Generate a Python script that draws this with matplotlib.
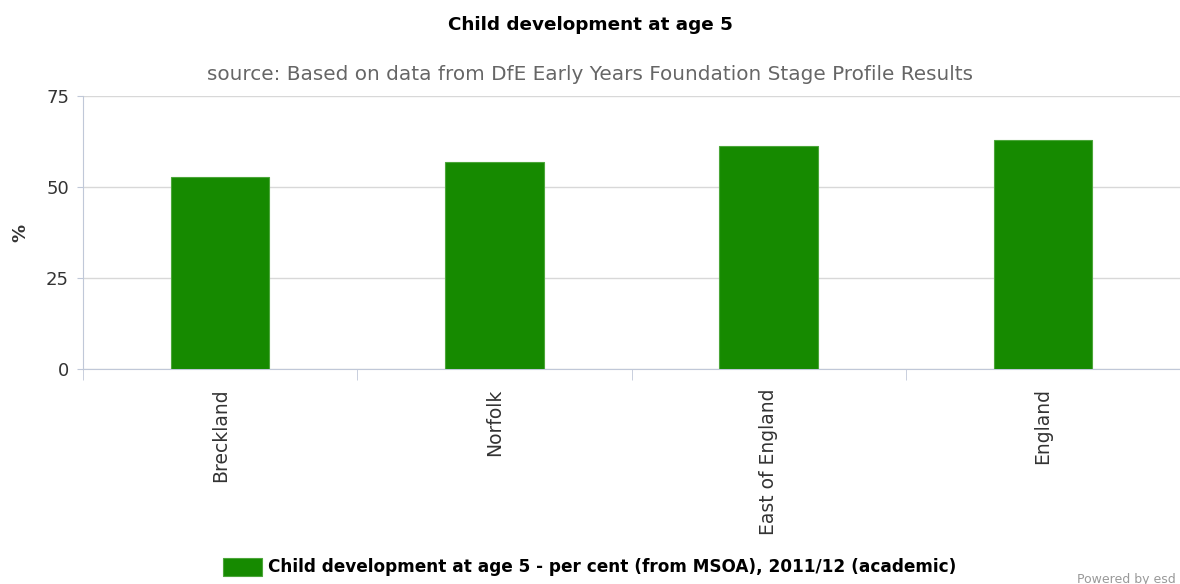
import matplotlib.pyplot as plt
import numpy as np

areas = ['Breckland', 'Norfolk', 'East of England', 'England']
values = [52.7, 56.9, 61.3, 62.9]
series_name = 'Child development at age 5 - per cent (from MSOA), 2011/12 (academic)'

def main():
	plt.rcParams['font.family'] = ['DejaVu Sans']
	fig = plt.figure(figsize=(11.8, 5.84), dpi=100)
	ax = fig.add_axes([83 / 1180, 1 - 369 / 584, 1 - 83 / 1180, (369 - 96) / 584])

	x = np.arange(len(areas))
	ax.bar(x, values, width=0.36, color='#168a00', edgecolor='#4ca63a', linewidth=0.8,
		label=series_name, zorder=3)

	ax.set_xlim(-0.5, len(areas) - 0.5)
	ax.set_ylim(0, 75)
	ax.set_yticks([0, 25, 50, 75])
	ax.tick_params(axis='y', length=4, color='#c0c8d8', labelsize=13, labelcolor='#333333', pad=6)
	ax.yaxis.grid(True, color='#d8d8d8', linewidth=1, zorder=0)

	# category labels at centres, tick marks at the boundaries
	ax.set_xticks(x)
	ax.set_xticklabels(areas, rotation=90, fontsize=13.5, color='#333333')
	ax.tick_params(axis='x', length=0, pad=14)
	ax.set_xticks(np.arange(len(areas) + 1) - 0.5, minor=True)
	ax.tick_params(axis='x', which='minor', length=8, color='#c0c8d8')

	for side in ['top', 'right']:
		ax.spines[side].set_visible(False)
	ax.spines['left'].set_color('#c0c8d8')
	ax.spines['bottom'].set_color('#c0c8d8')

	ax.set_ylabel('%', fontsize=13, fontweight='bold', color='#333333', labelpad=12)

	fig.text(0.5, 1 - 25 / 584, 'Child development at age 5', ha='center', va='center',
		fontsize=13.2, fontweight='bold', color='black')
	fig.text(0.5, 1 - 75 / 584, 'source: Based on data from DfE Early Years Foundation Stage Profile Results',
		ha='center', va='center', fontsize=14.4, color='#666666')

	fig.legend(loc='center', bbox_to_anchor=(0.5, 1 - 567 / 584), frameon=False,
		prop={'size': 12.2, 'weight': 'bold'}, handlelength=2.3, handleheight=1.25, handletextpad=0.35)
	fig.text(1077 / 1180, 1 - 579 / 584, 'Powered by esd', fontsize=9, color='#999999', va='center')

	fig.savefig('out.png', dpi=100)

if __name__ == '__main__':
	main()
